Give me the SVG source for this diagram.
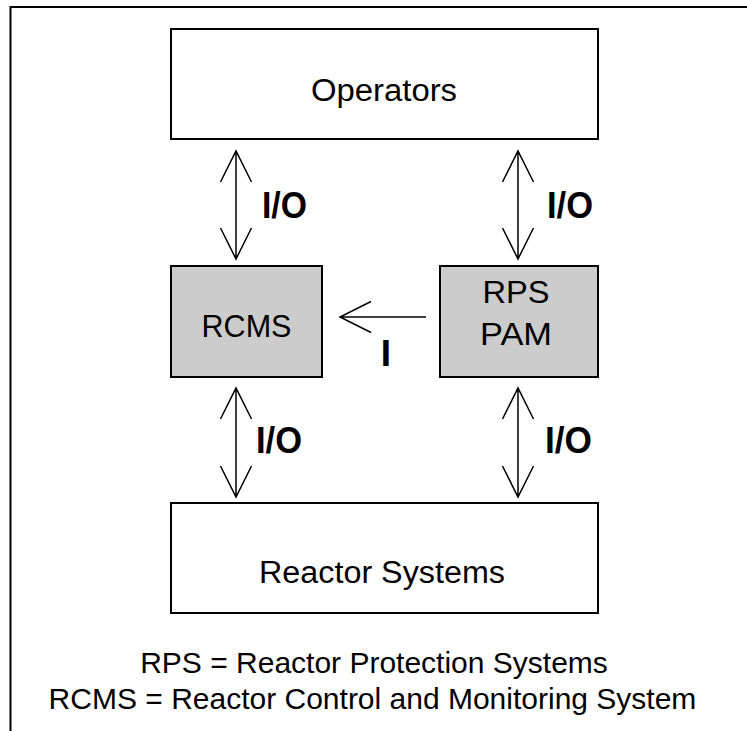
<svg xmlns="http://www.w3.org/2000/svg" width="747" height="731" viewBox="0 0 747 731">
<style>
.box{fill:#ffffff;stroke:#000000;stroke-width:2}
.gray{fill:#cccccc;stroke:#000000;stroke-width:2}
.frame{fill:none;stroke:#000000;stroke-width:2}
.lbl{font-family:"Liberation Sans",Arial,sans-serif;font-size:31px;fill:#000000;text-anchor:middle}
.io{font-family:"Liberation Sans",Arial,sans-serif;font-size:37px;font-weight:bold;fill:#000000}
.cap{font-family:"Liberation Sans",Arial,sans-serif;font-size:30px;fill:#000000;text-anchor:middle}
.ln{fill:none;stroke:#000000;stroke-width:1.5}
</style>
<rect width="747" height="731" fill="#ffffff"/>
<path class="frame" d="M10.5,731 V7 H747"/>
<g id="operators">
<rect class="box" x="171" y="29" width="427" height="110"/>
<text class="lbl" x="384" y="101" textLength="146" lengthAdjust="spacingAndGlyphs">Operators</text>
</g>
<g id="rcms">
<rect class="gray" x="171" y="266" width="151" height="111"/>
<text class="lbl" x="246.5" y="337" textLength="90" lengthAdjust="spacingAndGlyphs">RCMS</text>
</g>
<g id="rps-pam">
<rect class="gray" x="440" y="266" width="158" height="111"/>
<text class="lbl" x="516" y="303" textLength="67" lengthAdjust="spacingAndGlyphs">RPS</text>
<text class="lbl" x="516" y="345" textLength="72" lengthAdjust="spacingAndGlyphs">PAM</text>
</g>
<g id="reactor-systems">
<rect class="box" x="171" y="503" width="427" height="110"/>
<text class="lbl" x="382" y="583" textLength="246" lengthAdjust="spacingAndGlyphs">Reactor Systems</text>
</g>
<g id="connectors">
<path class="ln" d="M236,151 V259 M220.5,182 L236,151 L251.5,182 M220.5,228 L236,259 L251.5,228"/>
<path class="ln" d="M518,151 V259 M502.5,182 L518,151 L533.5,182 M502.5,228 L518,259 L533.5,228"/>
<path class="ln" d="M236,388 V497 M220.5,419 L236,388 L251.5,419 M220.5,466 L236,497 L251.5,466"/>
<path class="ln" d="M518,388 V497 M502.5,419 L518,388 L533.5,419 M502.5,466 L518,497 L533.5,466"/>
<path class="ln" d="M426,317 H340 M371,301.5 L340,317 L371,332.5"/>
<text class="io" x="262" y="218" textLength="45" lengthAdjust="spacingAndGlyphs">I/O</text>
<text class="io" x="547" y="218" textLength="46" lengthAdjust="spacingAndGlyphs">I/O</text>
<text class="io" x="256" y="453" textLength="46" lengthAdjust="spacingAndGlyphs">I/O</text>
<text class="io" x="545" y="453" textLength="47" lengthAdjust="spacingAndGlyphs">I/O</text>
<text class="io" x="386" y="366" text-anchor="middle">I</text>
</g>
<g id="legend">
<text class="cap" x="374" y="673">RPS = Reactor Protection Systems</text>
<text class="cap" x="372.5" y="709">RCMS = Reactor Control and Monitoring System</text>
</g>
</svg>
